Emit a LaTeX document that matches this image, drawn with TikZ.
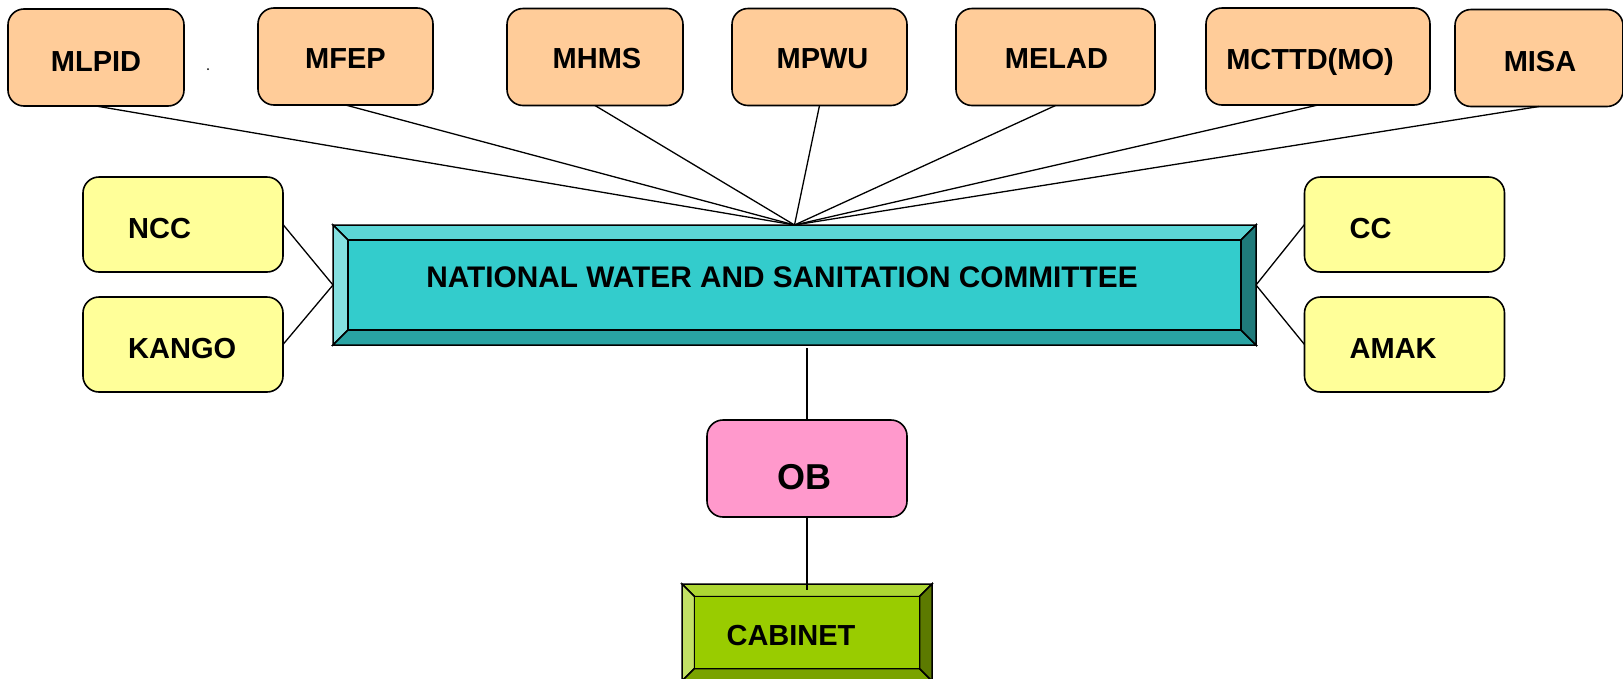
\documentclass[tikz,border=0pt]{standalone}
\usepackage{fontspec}
\setmainfont{Liberation Sans}
\usetikzlibrary{calc}
\definecolor{peach}{HTML}{FFCC99}
\definecolor{lyellow}{HTML}{FFFF99}
\definecolor{obpink}{HTML}{FF99CC}
\definecolor{tealmain}{HTML}{33CCCC}
\definecolor{tealtop}{HTML}{5CD6D6}
\definecolor{tealleft}{HTML}{85E0E0}
\definecolor{tealbot}{HTML}{29A3A3}
\definecolor{tealright}{HTML}{1F7A7A}
\definecolor{cabmain}{HTML}{99CC00}
\definecolor{cabtop}{HTML}{ADD633}
\definecolor{cableft}{HTML}{C2E066}
\definecolor{cabbot}{HTML}{7AA300}
\definecolor{cabright}{HTML}{5C7A00}
\newcommand\lblfont{\fontsize{29pt}{34pt}\selectfont\bfseries}
% #1 node name, #2 bevel, #3 main, #4 top, #5 left, #6 bottom, #7 right
\newcommand\drawbevel[7]{%
  \filldraw[fill=#4,bevline] (#1.north west) -- (#1.north east) -- ($(#1.north east)+(-#2,#2)$) -- ($(#1.north west)+(#2,#2)$) -- cycle;
  \filldraw[fill=#5,bevline] (#1.north west) -- ($(#1.north west)+(#2,#2)$) -- ($(#1.south west)+(#2,-#2)$) -- (#1.south west) -- cycle;
  \filldraw[fill=#6,bevline] (#1.south west) -- ($(#1.south west)+(#2,-#2)$) -- ($(#1.south east)+(-#2,-#2)$) -- (#1.south east) -- cycle;
  \filldraw[fill=#7,bevline] (#1.north east) -- ($(#1.north east)+(-#2,#2)$) -- ($(#1.south east)+(-#2,-#2)$) -- (#1.south east) -- cycle;
  \filldraw[fill=#3,bevline] ($(#1.north west)+(#2,#2)$) rectangle ($(#1.south east)+(-#2,-#2)$);
}
\tikzset{
  every label/.style={inner sep=0pt, text height=21pt, text depth=0pt, font=\lblfont},
  rbox/.style={draw=black, line width=1.6pt, rounded corners=16pt, outer sep=0pt, inner sep=0pt},
  topbox/.style={rbox, fill=peach, minimum height=97pt},
  sidebox/.style={rbox, fill=lyellow, minimum width=200pt, minimum height=95pt},
  bevelbox/.style={outer sep=0pt, inner sep=0pt, draw=none},
  bevline/.style={draw=black, line width=1.5pt, line join=miter},
  conn/.style={draw=black, line width=1.3pt},
}
\begin{document}
\begin{tikzpicture}[x=1pt, y=-1pt]
\useasboundingbox (0,0) rectangle (1623,678);
\clip (0,0) rectangle (1623,678);
\fill[white] (0,0) rectangle (1623,678);

% central committee box
\node[bevelbox, minimum width=923pt, minimum height=120pt] (nwsc) at (794.5,285) {};
\drawbevel{nwsc}{15}{tealmain}{tealtop}{tealleft}{tealbot}{tealright}
\node[inner sep=0pt, text height=21.5pt, text depth=0pt, font=\fontsize{29.8pt}{34pt}\selectfont\bfseries] (nwsctext) at (782,277) {NATIONAL WATER AND SANITATION COMMITTEE};

% cabinet
\node[bevelbox, minimum width=250pt, minimum height=97pt] (cab) at (807,632.5) {};
\drawbevel{cab}{12.5}{cabmain}{cabtop}{cableft}{cabbot}{cabright}
\node[inner sep=0pt, text height=21pt, text depth=0pt, font=\lblfont] (cabtext) at (791,635) {CABINET};

% top ministries
\node[topbox, minimum width=176pt, label={[yshift=-3pt]center:MLPID}] (mlpid) at (96,57.5) {};
\node[topbox, minimum width=175pt, label={[yshift=-1pt]center:MFEP}] (mfep) at (345.5,56.5) {};
\node[topbox, minimum width=176pt, label={[xshift=2pt,yshift=-1pt]center:MHMS}] (mhms) at (595,57) {};
\node[topbox, minimum width=175pt, label={[xshift=3pt,yshift=-1pt]center:MPWU}] (mpwu) at (819.5,57) {};
\node[topbox, minimum width=199pt, label={[xshift=1pt,yshift=-1pt]center:MELAD}] (melad) at (1055.5,57) {};
\node[topbox, minimum width=224pt, label={[xshift=-8pt,yshift=-2pt]center:MCTTD(MO)}] (mcttd) at (1318,56.5) {};
\node[topbox, minimum width=168pt, label={[xshift=1pt,yshift=-3pt]center:MISA}] (misa) at (1539,58) {};
\fill (208,69) circle (1pt);

% side boxes
\node[sidebox, label={[anchor=west,xshift=45pt,yshift=-3.5pt]west:NCC}] (ncc) at (183,224.5) {};
\node[sidebox, label={[anchor=west,xshift=45pt,yshift=-3.5pt]west:KANGO}] (kango) at (183,344.5) {};
\node[sidebox, label={[anchor=west,xshift=45pt,yshift=-3.5pt]west:CC}] (cc) at (1404.5,224.5) {};
\node[sidebox, label={[anchor=west,xshift=45pt,yshift=-3.5pt]west:AMAK}] (amak) at (1404.5,344.5) {};

% OB
\node[rbox, fill=obpink, minimum width=200pt, minimum height=97pt,
  label={[font=\fontsize{36pt}{40pt}\selectfont\bfseries, text height=26pt, xshift=-3pt, yshift=-8pt]center:OB}] (ob) at (807,468.5) {};

% connectors
\foreach \m in {mlpid,mfep,mhms,mpwu,melad,mcttd,misa}
  \draw[conn] (\m.south) -- (nwsc.north);
\draw[conn] (ncc.east) -- (nwsc.west);
\draw[conn] (kango.east) -- (nwsc.west);
\draw[conn] (nwsc.east) -- (cc.west);
\draw[conn] (nwsc.east) -- (amak.west);
\draw[conn] ($(ob.north |- nwsc.south)+(0,3)$) -- (ob.north);
\draw[conn] (ob.south) -- ($(cab.north)+(0,6)$);
\end{tikzpicture}
\end{document}
